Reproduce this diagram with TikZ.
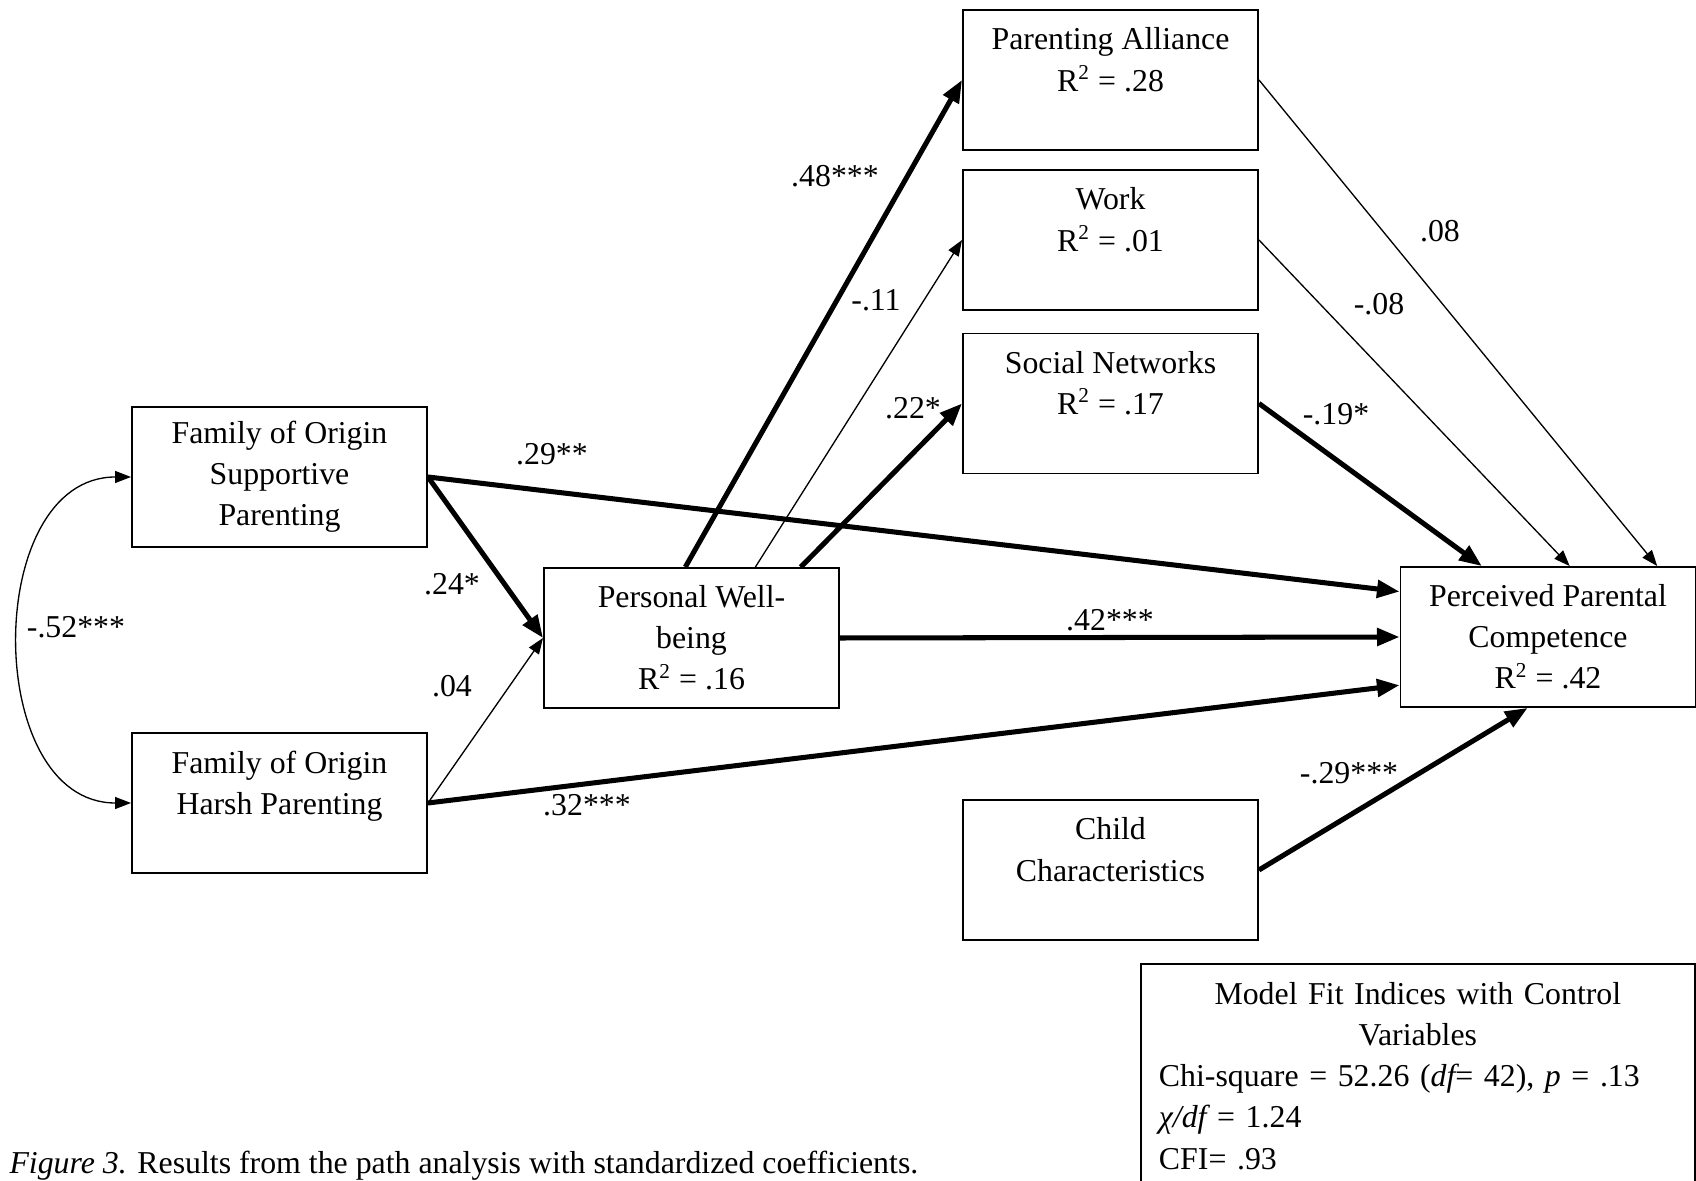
\documentclass[tikz,border=0pt]{standalone}
\usepackage{fontspec}
\setmainfont{Liberation Serif}
\usetikzlibrary{arrows.meta,positioning}
\tikzset{
  var/.style={draw, line width=0.7pt, minimum width=3.91cm, minimum height=1.855cm, align=center, inner sep=2pt},
  thickpath/.style={line width=1.9pt, -{Triangle[length=8.5pt,width=6.5pt]}},
  thinpath/.style={line width=0.5pt, -{Triangle[length=6pt,width=4.5pt]}},
  corr/.style={line width=0.5pt, {Triangle[length=6pt,width=4.5pt]}-{Triangle[length=6pt,width=4.5pt]}},
  coef/.style={inner sep=1pt}
}
\begin{document}
\begin{tikzpicture}[x=1.325cm, y=1.325cm, font=\fontsize{12}{15.5}\selectfont]
    \useasboundingbox (0,0) rectangle (16.96,11.81);

    % Variables
    \node[var] (fs) at (2.795,7.04) {Family of Origin\\Supportive\\Parenting};
    \node[var] (fh) at (2.795,3.78) {Family of Origin\\Harsh Parenting\\\mbox{}};
    \node[var] (pwb) at (6.915,5.43) {Personal Well-\\being\\R\textsuperscript{2} = .16};
    \node[var] (pa) at (11.105,11.01) {Parenting Alliance\\R\textsuperscript{2} = .28\\\mbox{}};
    \node[var] (work) at (11.105,9.41) {Work\\R\textsuperscript{2} = .01\\\mbox{}};
    \node[var] (sn) at (11.105,7.775) {Social Networks\\R\textsuperscript{2} = .17\\\mbox{}};
    \node[var] (child) at (11.105,3.11) {Child\\Characteristics\\\mbox{}};
    \node[var] (ppc) at (15.48,5.44) {Perceived Parental\\Competence\\R\textsuperscript{2} = .42};

    % Paths
    \draw[corr] (fs.west) to[out=180, in=180, looseness=1.17] (fh.west);
    \draw[thickpath] (fs.east) -- (pwb.west);
    \draw[thinpath] (fh.east) -- (pwb.west);
    \draw[thickpath] (fs.east) -- (ppc.163);
    \draw[thickpath] (fh.east) -- (ppc.-162);
    \draw[thickpath] (pwb.95) -- (pa.west);
    \draw[thinpath] (pwb.48) -- (work.west);
    \draw[thickpath] (pwb.33) -- (sn.west);
    \draw[thickpath] (pwb.east) -- (ppc.west);
    \draw[thinpath] (pa.east) -- (ppc.33);
    \draw[thinpath] (work.east) -- (ppc.73);
    \draw[thickpath] (sn.east) -- (ppc.133);
    \draw[thickpath] (child.east) -- (ppc.-106);

    % Coefficients
    \node[coef] (c52) at (0.76,5.54) {-.52***};
    \node[coef] (c29) at (5.52,7.27) {.29**};
    \node[coef] (c24) at (4.52,5.97) {.24*};
    \node[coef] (c04) at (4.52,4.95) {.04};
    \node[coef] (c32) at (5.87,3.76) {.32***};
    \node[coef] (c48) at (8.35,10.05) {.48***};
    \node[coef] (c11) at (8.76,8.81) {-.11};
    \node[coef] (c22) at (9.13,7.73) {.22*};
    \node[coef] (c42) at (11.10,5.61) {.42***};
    \node[coef] (c08) at (14.40,9.50) {.08};
    \node[coef] (cm08) at (13.79,8.77) {-.08};
    \node[coef] (c19) at (13.36,7.67) {-.19*};
    \node[coef] (cm29) at (13.49,4.08) {-.29***};

    % Fit indices and caption
    \node[draw, line width=0.7pt, anchor=north west, text width=6.86cm, inner xsep=6.8pt, inner ysep=7pt, align=left] (fit) at (11.40,2.18)
        {{\centering Model Fit Indices with Control\\Variables\par}Chi-square = 52.26 ({\itshape df}= 42), {\itshape p} = .13\\{\itshape χ/df} = 1.24\\CFI= .93};
    \node[anchor=base west, inner sep=0pt] (cap) at (0.09,0.07) {\textit{Figure 3.} Results from the path analysis with standardized coefficients.};
\end{tikzpicture}
\end{document}
